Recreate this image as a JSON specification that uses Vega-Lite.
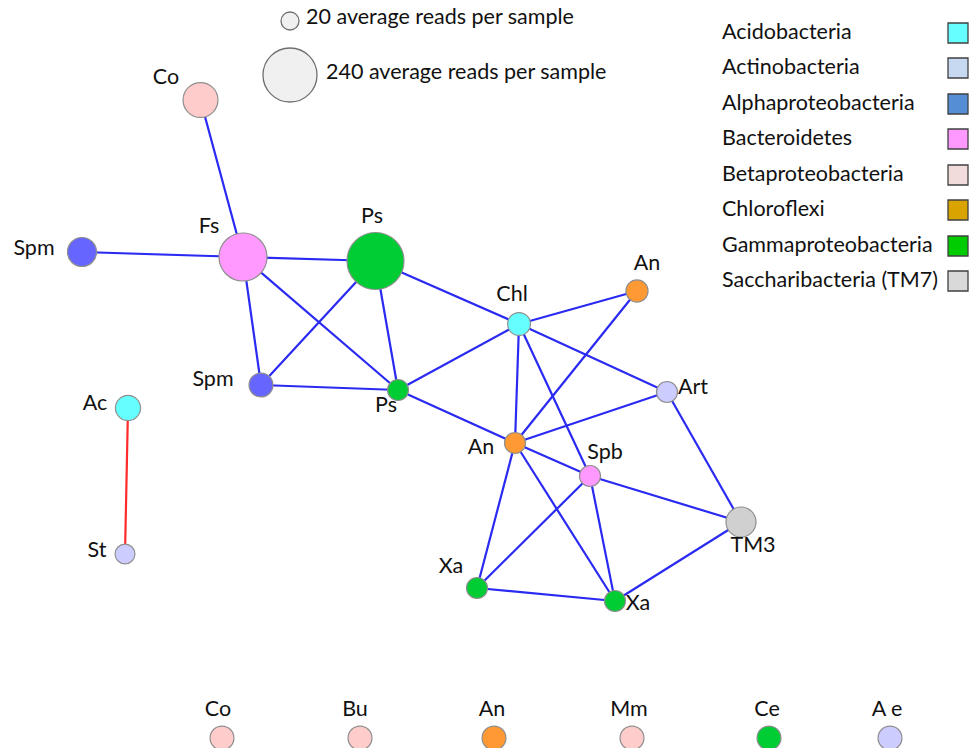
{
  "$schema": "https://vega.github.io/schema/vega-lite/v6.json",
  "width": 970,
  "height": 748,
  "padding": 0,
  "autosize": {"type": "none"},
  "background": "white",
  "config": {"view": {"stroke": null}, "font": "Lato"},
  "datasets": {
    "nodes": [
      {"id": "n1", "name": "Co", "taxon": "Betaproteobacteria", "reads": 96, "x": 200.5, "y": 100, "lx": 166, "ly": 78},
      {"id": "n2", "name": "Fs", "taxon": "Bacteroidetes", "reads": 188, "x": 243, "y": 257, "lx": 209, "ly": 227},
      {"id": "n3", "name": "Spm", "taxon": "Alphaproteobacteria", "reads": 64, "x": 82, "y": 252, "lx": 34, "ly": 249},
      {"id": "n4", "name": "Ps", "taxon": "Gammaproteobacteria", "reads": 268, "x": 375.5, "y": 261, "lx": 372, "ly": 217},
      {"id": "n5", "name": "Spm", "taxon": "Alphaproteobacteria", "reads": 41, "x": 261, "y": 385, "lx": 213, "ly": 380},
      {"id": "n6", "name": "Ps", "taxon": "Gammaproteobacteria", "reads": 30, "x": 398, "y": 390, "lx": 386, "ly": 406},
      {"id": "n7", "name": "Ac", "taxon": "Acidobacteria", "reads": 46, "x": 128, "y": 408, "lx": 95, "ly": 404},
      {"id": "n8", "name": "St", "taxon": "Actinobacteria", "reads": 26, "x": 125, "y": 554, "lx": 97, "ly": 551},
      {"id": "n9", "name": "Chl", "taxon": "Acidobacteria", "reads": 37, "x": 519, "y": 324, "lx": 512, "ly": 295},
      {"id": "n10", "name": "An", "taxon": "Chloroflexi", "reads": 34, "x": 637, "y": 291, "lx": 647, "ly": 264},
      {"id": "n11", "name": "Art", "taxon": "Actinobacteria", "reads": 30, "x": 667, "y": 392, "lx": 693, "ly": 388},
      {"id": "n12", "name": "An", "taxon": "Chloroflexi", "reads": 30, "x": 515, "y": 443, "lx": 481, "ly": 448},
      {"id": "n13", "name": "Spb", "taxon": "Bacteroidetes", "reads": 30, "x": 590, "y": 476, "lx": 605, "ly": 453},
      {"id": "n14", "name": "TM3", "taxon": "Saccharibacteria (TM7)", "reads": 69, "x": 741, "y": 522, "lx": 753, "ly": 546},
      {"id": "n15", "name": "Xa", "taxon": "Gammaproteobacteria", "reads": 30, "x": 477, "y": 588, "lx": 451, "ly": 567},
      {"id": "n16", "name": "Xa", "taxon": "Gammaproteobacteria", "reads": 30, "x": 615, "y": 601, "lx": 638, "ly": 604}
    ],
    "edges": [
      {"source": "n1", "target": "n2", "sign": "positive"},
      {"source": "n3", "target": "n2", "sign": "positive"},
      {"source": "n2", "target": "n4", "sign": "positive"},
      {"source": "n2", "target": "n5", "sign": "positive"},
      {"source": "n2", "target": "n6", "sign": "positive"},
      {"source": "n4", "target": "n5", "sign": "positive"},
      {"source": "n4", "target": "n6", "sign": "positive"},
      {"source": "n4", "target": "n9", "sign": "positive"},
      {"source": "n5", "target": "n6", "sign": "positive"},
      {"source": "n6", "target": "n9", "sign": "positive"},
      {"source": "n6", "target": "n12", "sign": "positive"},
      {"source": "n9", "target": "n10", "sign": "positive"},
      {"source": "n9", "target": "n11", "sign": "positive"},
      {"source": "n9", "target": "n12", "sign": "positive"},
      {"source": "n9", "target": "n13", "sign": "positive"},
      {"source": "n10", "target": "n12", "sign": "positive"},
      {"source": "n11", "target": "n12", "sign": "positive"},
      {"source": "n11", "target": "n14", "sign": "positive"},
      {"source": "n12", "target": "n13", "sign": "positive"},
      {"source": "n12", "target": "n15", "sign": "positive"},
      {"source": "n12", "target": "n16", "sign": "positive"},
      {"source": "n13", "target": "n15", "sign": "positive"},
      {"source": "n13", "target": "n16", "sign": "positive"},
      {"source": "n13", "target": "n14", "sign": "positive"},
      {"source": "n14", "target": "n16", "sign": "positive"},
      {"source": "n15", "target": "n16", "sign": "positive"},
      {"source": "n7", "target": "n8", "sign": "negative"}
    ],
    "samples": [
      {"name": "Co", "taxon": "Betaproteobacteria", "reads": 41, "x": 222, "lx": 218, "y": 738, "ly": 710},
      {"name": "Bu", "taxon": "Betaproteobacteria", "reads": 41, "x": 360, "lx": 355, "y": 738, "ly": 710},
      {"name": "An", "taxon": "Chloroflexi", "reads": 41, "x": 494, "lx": 492, "y": 738, "ly": 710},
      {"name": "Mm", "taxon": "Betaproteobacteria", "reads": 41, "x": 632, "lx": 629, "y": 738, "ly": 710},
      {"name": "Ce", "taxon": "Gammaproteobacteria", "reads": 41, "x": 769, "lx": 767, "y": 738, "ly": 710},
      {"name": "A e", "taxon": "Actinobacteria", "reads": 41, "x": 890, "lx": 887, "y": 738, "ly": 710}
    ],
    "sizeLegend": [
      {"reads": 20, "text": "20 average reads per sample", "x": 290, "y": 21, "tx": 306, "ty": 18},
      {"reads": 240, "text": "240 average reads per sample", "x": 290, "y": 75, "tx": 326, "ty": 73}
    ],
    "taxa": [
      {"taxon": "Acidobacteria", "x": 722, "sx": 958, "y": 33},
      {"taxon": "Actinobacteria", "x": 722, "sx": 958, "y": 68},
      {"taxon": "Alphaproteobacteria", "x": 722, "sx": 958, "y": 104},
      {"taxon": "Bacteroidetes", "x": 722, "sx": 958, "y": 139},
      {"taxon": "Betaproteobacteria", "x": 722, "sx": 958, "y": 175},
      {"taxon": "Chloroflexi", "x": 722, "sx": 958, "y": 210},
      {"taxon": "Gammaproteobacteria", "x": 722, "sx": 958, "y": 246},
      {"taxon": "Saccharibacteria (TM7)", "x": 722, "sx": 958, "y": 281}
    ]
  },
  "layer": [
    {
      "data": {"name": "edges"},
      "transform": [
        {"lookup": "source", "from": {"data": {"name": "nodes"}, "key": "id", "fields": ["x", "y"]}, "as": ["x1", "y1"]},
        {"lookup": "target", "from": {"data": {"name": "nodes"}, "key": "id", "fields": ["x", "y"]}, "as": ["x2", "y2"]}
      ],
      "mark": {"type": "rule", "strokeWidth": 2.2},
      "encoding": {
        "x": {"field": "x1", "type": "quantitative", "scale": {"domain": [0, 970], "nice": false, "zero": false}, "axis": null},
        "y": {"field": "y1", "type": "quantitative", "scale": {"domain": [0, 748], "nice": false, "zero": false, "reverse": true}, "axis": null},
        "x2": {"field": "x2"},
        "y2": {"field": "y2"},
        "stroke": {"field": "sign", "type": "nominal", "scale": {"domain": ["positive", "negative"], "range": ["#2a2af2", "#ff2a2a"]}, "legend": null}
      }
    },
    {
      "data": {"name": "nodes"},
      "mark": {"type": "point", "shape": "circle", "filled": true, "opacity": 1, "stroke": "#8f8f8f", "strokeWidth": 1.2},
      "encoding": {
        "x": {"field": "x", "type": "quantitative", "scale": {"domain": [0, 970], "nice": false, "zero": false}, "axis": null},
        "y": {"field": "y", "type": "quantitative", "scale": {"domain": [0, 748], "nice": false, "zero": false, "reverse": true}, "axis": null},
        "size": {"field": "reads", "type": "quantitative", "scale": {"domain": [20, 240], "range": [324, 2916]}, "legend": null},
        "fill": {"field": "taxon", "type": "nominal", "scale": {"domain": ["Acidobacteria", "Actinobacteria", "Alphaproteobacteria", "Bacteroidetes", "Betaproteobacteria", "Chloroflexi", "Gammaproteobacteria", "Saccharibacteria (TM7)"], "range": ["#66ffff", "#ccccff", "#6666ff", "#ff99ff", "#ffcccc", "#ff9933", "#00cc33", "#d0d0d0"]}, "legend": null}
      }
    },
    {
      "data": {"name": "nodes"},
      "mark": {"type": "text", "fontSize": 21.5, "font": "Lato", "color": "#111111", "align": "center", "baseline": "middle"},
      "encoding": {
        "x": {"field": "lx", "type": "quantitative", "scale": {"domain": [0, 970], "nice": false, "zero": false}, "axis": null},
        "y": {"field": "ly", "type": "quantitative", "scale": {"domain": [0, 748], "nice": false, "zero": false, "reverse": true}, "axis": null},
        "text": {"field": "name"}
      }
    },
    {
      "data": {"name": "samples"},
      "mark": {"type": "point", "shape": "circle", "filled": true, "opacity": 1, "stroke": "#8f8f8f", "strokeWidth": 1.2},
      "encoding": {
        "x": {"field": "x", "type": "quantitative", "scale": {"domain": [0, 970], "nice": false, "zero": false}, "axis": null},
        "y": {"field": "y", "type": "quantitative", "scale": {"domain": [0, 748], "nice": false, "zero": false, "reverse": true}, "axis": null},
        "size": {"field": "reads", "type": "quantitative", "legend": null},
        "fill": {"field": "taxon", "type": "nominal", "legend": null}
      }
    },
    {
      "data": {"name": "samples"},
      "mark": {"type": "text", "fontSize": 21.5, "font": "Lato", "color": "#111111", "align": "center", "baseline": "middle"},
      "encoding": {
        "x": {"field": "lx", "type": "quantitative", "scale": {"domain": [0, 970], "nice": false, "zero": false}, "axis": null},
        "y": {"field": "ly", "type": "quantitative", "scale": {"domain": [0, 748], "nice": false, "zero": false, "reverse": true}, "axis": null},
        "text": {"field": "name"}
      }
    },
    {
      "data": {"name": "sizeLegend"},
      "mark": {"type": "point", "shape": "circle", "filled": true, "opacity": 1, "fill": "#f0f0f0", "stroke": "#707070", "strokeWidth": 1.3},
      "encoding": {
        "x": {"field": "x", "type": "quantitative", "scale": {"domain": [0, 970], "nice": false, "zero": false}, "axis": null},
        "y": {"field": "y", "type": "quantitative", "scale": {"domain": [0, 748], "nice": false, "zero": false, "reverse": true}, "axis": null},
        "size": {"field": "reads", "type": "quantitative", "legend": null}
      }
    },
    {
      "data": {"name": "sizeLegend"},
      "mark": {"type": "text", "fontSize": 21.5, "font": "Lato", "color": "#111111", "align": "left", "baseline": "middle"},
      "encoding": {
        "x": {"field": "tx", "type": "quantitative", "scale": {"domain": [0, 970], "nice": false, "zero": false}, "axis": null},
        "y": {"field": "ty", "type": "quantitative", "scale": {"domain": [0, 748], "nice": false, "zero": false, "reverse": true}, "axis": null},
        "text": {"field": "text"}
      }
    },
    {
      "data": {"name": "taxa"},
      "mark": {"type": "text", "fontSize": 21.5, "font": "Lato", "color": "#111111", "align": "left", "baseline": "middle"},
      "encoding": {
        "x": {"field": "x", "type": "quantitative", "scale": {"domain": [0, 970], "nice": false, "zero": false}, "axis": null},
        "y": {"field": "y", "type": "quantitative", "scale": {"domain": [0, 748], "nice": false, "zero": false, "reverse": true}, "axis": null},
        "text": {"field": "taxon"}
      }
    },
    {
      "data": {"name": "taxa"},
      "mark": {"type": "point", "shape": "square", "filled": true, "opacity": 1, "stroke": "#404040", "strokeWidth": 1.3, "size": 400},
      "encoding": {
        "x": {"field": "sx", "type": "quantitative", "scale": {"domain": [0, 970], "nice": false, "zero": false}, "axis": null},
        "y": {"field": "y", "type": "quantitative", "scale": {"domain": [0, 748], "nice": false, "zero": false, "reverse": true}, "axis": null},
        "color": {"field": "taxon", "type": "nominal", "scale": {"domain": ["Acidobacteria", "Actinobacteria", "Alphaproteobacteria", "Bacteroidetes", "Betaproteobacteria", "Chloroflexi", "Gammaproteobacteria", "Saccharibacteria (TM7)"], "range": ["#66ffff", "#c6d9f1", "#558ed5", "#ff99ff", "#f2dcdb", "#d9a300", "#00cc00", "#d9d9d9"]}, "legend": null}
      }
    }
  ]
}
